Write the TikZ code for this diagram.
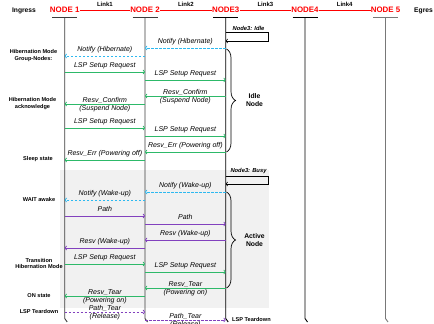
\documentclass[tikz,border=0pt]{standalone}
\usepackage{fontspec}
\setmainfont{Liberation Sans}
\usetikzlibrary{arrows.meta,decorations.pathreplacing}
\definecolor{grn}{RGB}{45,185,105}
\definecolor{blu}{RGB}{45,185,240}
\definecolor{pur}{RGB}{130,65,190}
\definecolor{bgg}{RGB}{241,241,241}
\definecolor{dgray}{RGB}{60,60,60}
\definecolor{mgray}{RGB}{120,120,120}
\begin{document}
\begin{tikzpicture}[x=1pt,y=-1pt,
  hdr/.style={text=red,font=\bfseries\fontsize{7.9}{9}\selectfont,inner sep=0pt},
  lnk/.style={font=\bfseries\fontsize{6}{7}\selectfont,inner sep=0pt},
  side/.style={font=\bfseries\fontsize{5.6}{6.8}\selectfont,inner sep=0pt,align=center},
  lbl/.style={font=\itshape\fontsize{7}{8}\selectfont,inner sep=0pt,anchor=base},
  note/.style={font=\bfseries\itshape\fontsize{5.8}{7}\selectfont,inner sep=0pt},
  bnote/.style={font=\bfseries\fontsize{6.8}{7.8}\selectfont,inner sep=0pt,align=center},
  life/.style={line width=0.9pt},
  tip/.style={-{To[length=2.2pt,width=4.5pt]}},
  msgG/.style={tip,draw=grn,line width=0.8pt},
  msgB/.style={tip,draw=blu,line width=0.8pt,dash pattern=on 2.5pt off 1.5pt},
  msgP/.style={tip,draw=pur,line width=0.8pt},
  msgPd/.style={tip,draw=pur,line width=0.8pt,dash pattern=on 2.5pt off 1.5pt},
  selfloop/.style={tip,draw=black,line width=0.6pt},
  brc/.style={decorate,decoration={brace,amplitude=9pt},line width=0.7pt},
  redlink/.style={draw=red,line width=0.8pt}
]
\useasboundingbox (0,0) rectangle (434,324);
% background of the active section
\fill[bgg] (60,170) rectangle (269,308);

% header
\node[font=\bfseries\fontsize{6.7}{8}\selectfont,inner sep=0pt] (ing) at (24,10.5) {Ingress};
\node[font=\bfseries\fontsize{6.7}{8}\selectfont,inner sep=0pt,anchor=west] (egr) at (414,10.5) {Egres};
\node[hdr] (n1) at (64.7,10) {NODE 1};
\node[hdr] (n2) at (145,10) {NODE 2};
\node[hdr] (n3) at (225.7,10) {NODE3};
\node[hdr] (n4) at (305,10) {NODE4};
\node[hdr] (n5) at (385.5,10) {NODE 5};
\draw[redlink] (n1.east) -- node[lnk,above=3pt]{Link1} (n2.west);
\draw[redlink] (n2.east) -- node[lnk,above=3pt]{Link2} (n3.west);
\draw[redlink] (n3.east) -- node[lnk,above=3pt]{Link3} (n4.west);
\draw[redlink] (n4.east) -- node[lnk,above=3pt]{Link4} (n5.west);

% lifelines
\coordinate (L1) at (64.7,17.5);
\coordinate (L2) at (145,17.5);
\coordinate (L3) at (225.7,17.5);
\coordinate (L4) at (305,17.5);
\coordinate (L5) at (385.5,17.5);
\foreach \c/\col in {L1/dgray,L2/dgray,L3/black,L4/black,L5/mgray}{
  \draw[life,draw=\col] ([xshift=-12.5pt]\c) -- ([xshift=12.5pt]\c);
  \draw[life,draw=\col] (\c) -- (\c |- 0,318.5) -- ++(2.5,3.5);
}

% Idle section
\draw[selfloop] (L3 |- 0,32) -| (268,41) -- (L3 |- 0,41);
\node[note] (idle) at (248.5,28) {Node3: Idle};
\draw[msgB] (L3 |- 0,48) -- node[lbl,yshift=5pt]{Notify (Hibernate)} (L2 |- 0,48);
\draw[msgB] (L2 |- 0,56) -- node[lbl,yshift=5pt]{Notify (Hibernate)} (L1 |- 0,56);
\draw[msgG] (L1 |- 0,72) -- node[lbl,yshift=5pt]{LSP Setup Request} (L2 |- 0,72);
\draw[msgG] (L2 |- 0,80) -- node[lbl,yshift=5pt]{LSP Setup Request} (L3 |- 0,80);
\draw[msgG] (L3 |- 0,96) -- node[lbl,yshift=1.8pt]{Resv\_Confirm} node[lbl,yshift=-6.2pt]{(Suspend Node)} (L2 |- 0,96);
\draw[msgG] (L2 |- 0,104) -- node[lbl,yshift=1.8pt]{Resv\_Confirm} node[lbl,yshift=-6.2pt]{(Suspend Node)} (L1 |- 0,104);
\draw[msgG] (L1 |- 0,128) -- node[lbl,yshift=5pt]{LSP Setup Request} (L2 |- 0,128);
\draw[msgG] (L2 |- 0,136) -- node[lbl,yshift=5pt]{LSP Setup Request} (L3 |- 0,136);
\draw[msgG] (L3 |- 0,152) -- node[lbl,yshift=5pt]{Resv\_Err (Powering off)} (L2 |- 0,152);
\draw[msgG] (L2 |- 0,160) -- node[lbl,yshift=5pt]{Resv\_Err (Powering off)} (L1 |- 0,160);
\draw[brc] (226.5,49) -- (226.5,152);
\node[bnote] (idlenode) at (254.5,100) {Idle\\Node};

% left notes
\node[side] (hg) at (33.5,55.5) {Hibernation Mode\\Group-Nodes:};
\node[side] (ha) at (32.5,103.5) {Hibernation Mode\\acknowledge};
\node[side] (ss) at (38,159) {Sleep state};
\node[side] (wa) at (39,199) {WAIT awake};
\node[side] (th) at (39,263.5) {Transition\\Hibernation Mode};
\node[side] (on) at (39,296) {ON state};
\node[side] (lt) at (39,311) {LSP Teardown};

% Active section
\draw[selfloop] (L3 |- 0,176) -| (268,184) -- (L3 |- 0,184);
\node[note] (busy) at (248.5,171) {Node3: Busy};
\draw[msgB] (L3 |- 0,192) -- node[lbl,yshift=5pt]{Notify (Wake-up)} (L2 |- 0,192);
\draw[msgB] (L2 |- 0,200) -- node[lbl,yshift=5pt]{Notify (Wake-up)} (L1 |- 0,200);
\draw[msgP] (L1 |- 0,216) -- node[lbl,yshift=5pt]{Path} (L2 |- 0,216);
\draw[msgP] (L2 |- 0,224) -- node[lbl,yshift=5pt]{Path} (L3 |- 0,224);
\draw[msgP] (L3 |- 0,240) -- node[lbl,yshift=5pt]{Resv (Wake-up)} (L2 |- 0,240);
\draw[msgP] (L2 |- 0,248) -- node[lbl,yshift=5pt]{Resv (Wake-up)} (L1 |- 0,248);
\draw[msgG] (L1 |- 0,264) -- node[lbl,yshift=5pt]{LSP Setup Request} (L2 |- 0,264);
\draw[msgG] (L2 |- 0,272) -- node[lbl,yshift=5pt]{LSP Setup Request} (L3 |- 0,272);
\draw[msgG] (L3 |- 0,288) -- node[lbl,yshift=1.8pt]{Resv\_Tear} node[lbl,yshift=-6.2pt]{(Powering on)} (L2 |- 0,288);
\draw[msgG] (L2 |- 0,296) -- node[lbl,yshift=1.8pt]{Resv\_Tear} node[lbl,yshift=-6.2pt]{(Powering on)} (L1 |- 0,296);
\draw[brc] (226.5,192) -- (226.5,288);
\node[bnote] (activenode) at (254.5,240) {Active\\Node};
\draw[msgPd] (L1 |- 0,312) -- node[lbl,yshift=1.8pt]{Path\_Tear} node[lbl,yshift=-6.2pt]{(Release)} (L2 |- 0,312);
\draw[msgPd] (L2 |- 0,320) -- node[lbl,yshift=1.8pt]{Path\_Tear} node[lbl,yshift=-6.2pt]{(Release)} (L3 |- 0,320);
\node[side,anchor=west] (lt2) at (232,319) {LSP Teardown};
\end{tikzpicture}
\end{document}
